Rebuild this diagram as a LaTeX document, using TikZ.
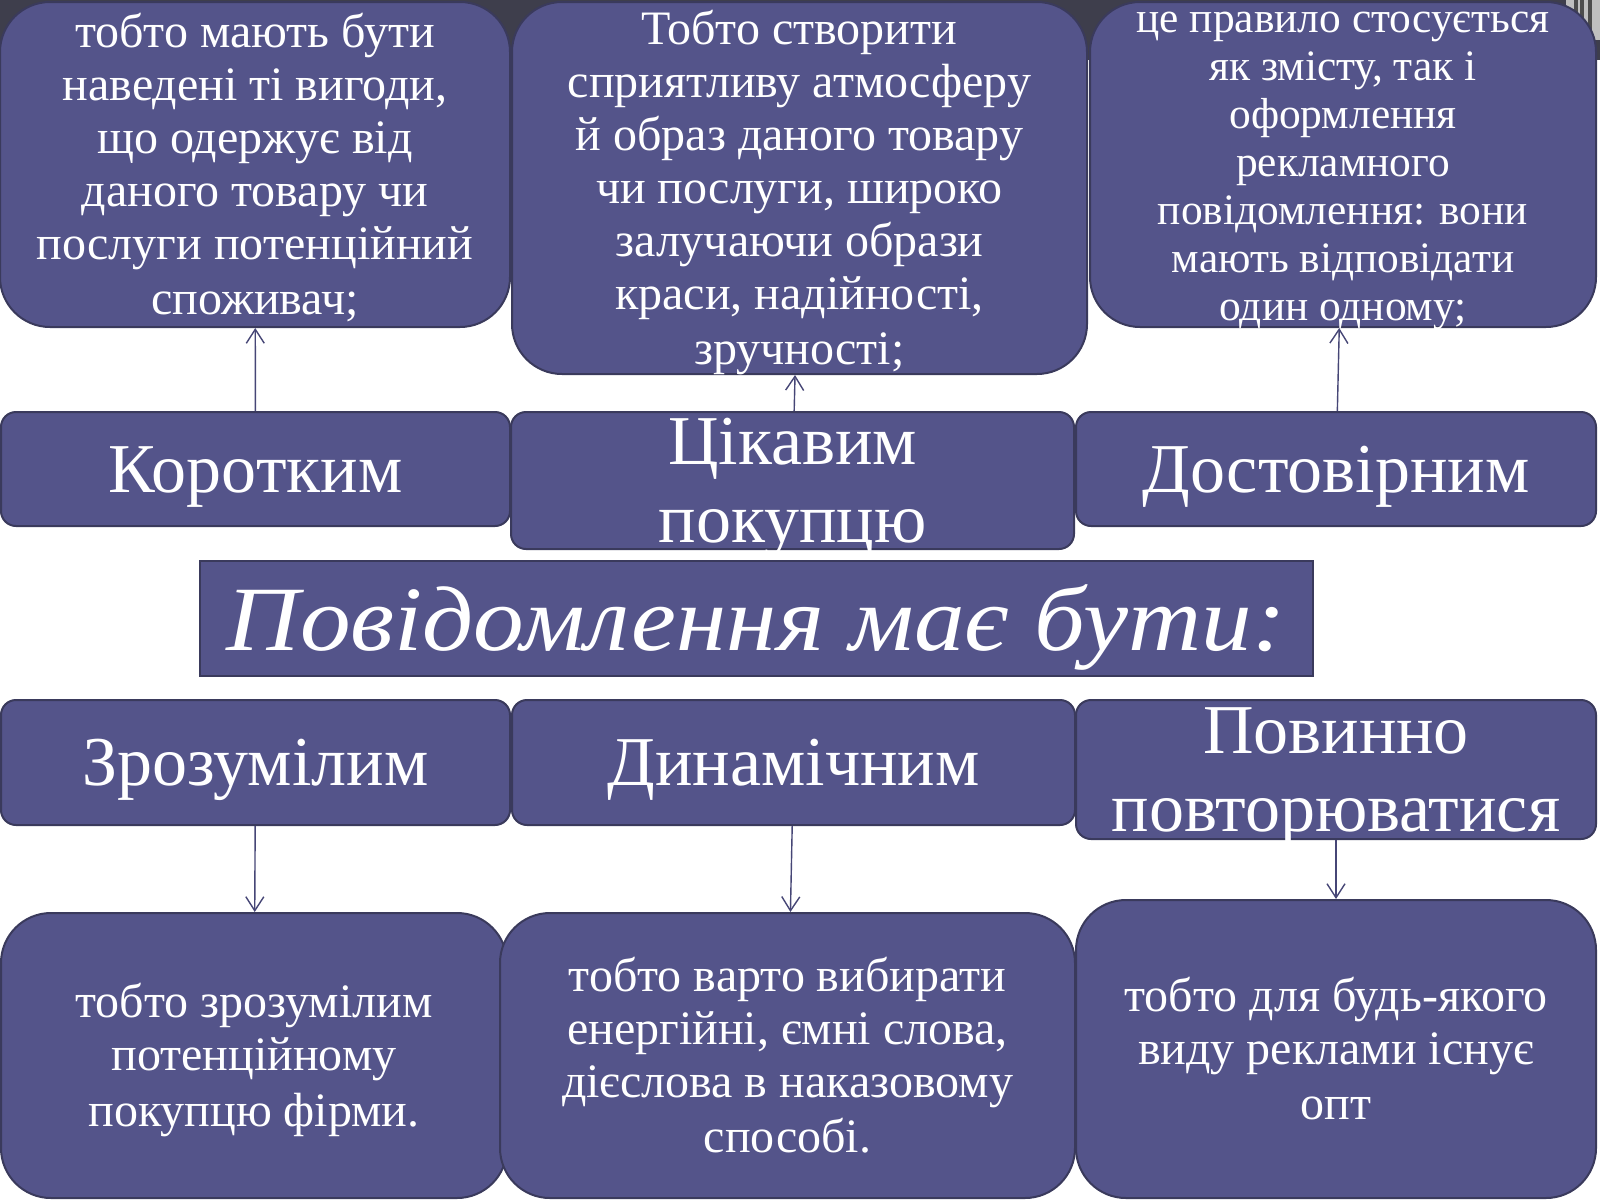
\documentclass[tikz,border=0pt]{standalone}
\usepackage{fontspec}
\setmainfont{Liberation Serif}
\newfontfamily\titlefont[FakeStretch=1.1]{Liberation Serif}
\usetikzlibrary{arrows.meta}
\definecolor{boxfill}{RGB}{84,84,138}
\definecolor{boxline}{RGB}{58,58,92}
\definecolor{arrowcol}{RGB}{70,70,118}
\definecolor{topband}{RGB}{62,62,76}
\newcommand{\linestrut}[2]{\rule[-#2em]{0pt}{\dimexpr#1em+#2em\relax}}

\begin{document}
\begin{tikzpicture}[
    x=0.5pt, y=-0.5pt,
    every node/.style={draw=boxline, line width=1pt, fill=boxfill, text=white, align=center, inner xsep=0pt, inner ysep=-30pt},
    textbox/.style={rounded corners=25pt, font=\fontsize{24}{26.5}\selectfont,
        execute at begin node=\def\ls{\linestrut{0.9}{0.22}}},
    smallbox/.style={textbox, font=\fontsize{21.7}{24}\selectfont,
        execute at begin node=\def\ls{\linestrut{0.78}{0.22}}},
    label/.style={rounded corners=7.5pt, font=\fontsize{35}{37.5}\selectfont,
        execute at begin node=\def\ls{\linestrut{0.87}{0.21}}},
    headline/.style={font=\titlefont\itshape\fontsize{46}{50}\selectfont,
        execute at begin node=\def\ls{\linestrut{0.91}{0.22}}},
    arrow/.style={-{Straight Barb[length=7pt,width=9pt]}, line width=0.7pt, draw=arrowcol}
]
\useasboundingbox[fill=white] (0,0) rectangle (1600,1200);
\fill[topband] (0,0) rectangle (1600,60);
\fill[black!25] (1566,0) rectangle (1600,40);
\foreach \sx in {1574,1580,1588}
    \fill[black!70] (\sx,0) rectangle ++(4,38);

% upper row
\node[textbox, minimum width=255pt, minimum height=162.5pt] (t1) at (255,164.5) {\ls тобто мають бути\\наведені ті вигоди,\\що одержує від\\даного товару чи\\послуги потенційний\\споживач;\ls};
\node[textbox, minimum width=287.5pt, minimum height=186pt] (t2) at (799.5,188) {\ls Тобто створити\\сприятливу атмосферу\\й образ даного товару\\чи послуги, широко\\залучаючи образи\\краси, надійності,\\зручності;\ls};
\node[smallbox, minimum width=253pt, minimum height=162.5pt] (t3) at (1343,164.5) {\ls це правило стосується\\як змісту, так і\\оформлення\\рекламного\\повідомлення: вони\\мають відповідати\\один одному;\ls};

\node[label, minimum width=254.5pt, minimum height=57pt] (kor) at (255.5,469) {\ls Коротким\ls};
\node[label, minimum width=281.5pt, minimum height=68.5pt] (cik) at (792.5,480.5) {\ls Цікавим\\покупцю\ls};
\node[label, minimum width=260pt, minimum height=57pt] (dos) at (1336,469) {\ls Достовірним\ls};

\node[headline, minimum width=556.5pt, minimum height=57.5pt] (head) at (756.5,618.5) {\ls Повідомлення має бути:\ls};

% lower row
\node[label, minimum width=254.5pt, minimum height=62.5pt] (zro) at (255.5,762.5) {\ls Зрозумілим\ls};
\node[label, minimum width=281.5pt, minimum height=62.5pt] (dyn) at (793.5,762.5) {\ls Динамічним\ls};
\node[label, minimum width=260pt, minimum height=69.5pt] (pov) at (1336,769.5) {\ls Повинно\\повторюватися\ls};

\node[textbox, minimum width=253pt, minimum height=142.5pt] (b1) at (254,1055.5) {\ls тобто зрозумілим\\потенційному\\покупцю фірми.\ls};
\node[textbox, minimum width=287.5pt, minimum height=142.5pt] (b2) at (787.5,1055.5) {\ls тобто варто вибирати\\енергійні, ємні слова,\\дієслова в наказовому\\способі.\ls};
\node[textbox, minimum width=260pt, minimum height=149pt] (b3) at (1336,1049) {\ls тобто для будь-якого\\виду реклами існує\\опт\ls};

\draw[arrow] (kor) -- (t1);
\draw[arrow] (cik) -- (t2);
\draw[arrow] (dos) -- (t3);
\draw[arrow] (zro) -- (b1);
\draw[arrow] (dyn) -- (b2);
\draw[arrow] (pov) -- (b3);

\end{tikzpicture}
\end{document}
